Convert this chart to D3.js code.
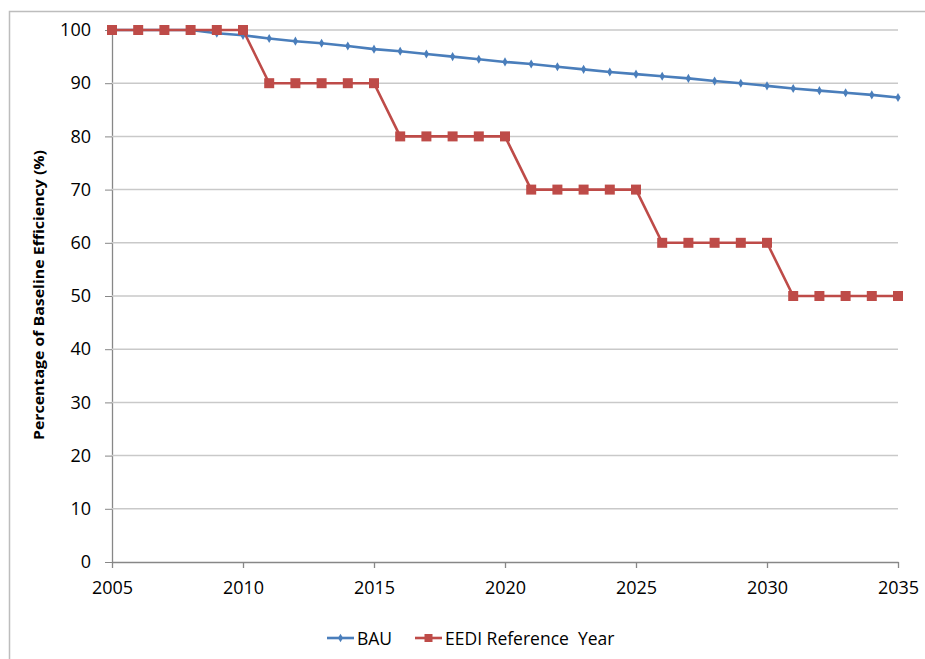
<!DOCTYPE html>
<html>
<head>
<meta charset="utf-8">
<script src="https://cdn.jsdelivr.net/npm/d3@7"></script>
<style>
  html, body { margin: 0; padding: 0; background: #fff; }
  svg { display: block; }
  text { font-family: "Open Sans", "Liberation Sans", sans-serif; fill: #000; }
</style>
</head>
<body>
<svg id="chart" width="925" height="659"></svg>
<script>
// Years on the category axis
const years = d3.range(2005, 2036);
// Business-as-usual efficiency path (% of baseline)
const bauValues = [100, 100, 100, 100, 99.4, 99.0, 98.4, 97.9, 97.5, 97.0,
  96.4, 96.0, 95.5, 95.0, 94.5, 94.0, 93.6, 93.1, 92.6, 92.1,
  91.7, 91.3, 90.9, 90.4, 90.0, 89.5, 89.0, 88.6, 88.2, 87.8, 87.3];
// EEDI reference-year steps (% of baseline)
const eediValues = [100, 100, 100, 100, 100, 100, 90, 90, 90, 90,
  90, 80, 80, 80, 80, 80, 70, 70, 70, 70,
  70, 60, 60, 60, 60, 60, 50, 50, 50, 50, 50];
const yTicks = [0, 10, 20, 30, 40, 50, 60, 70, 80, 90, 100];
const xTicks = [2005, 2010, 2015, 2020, 2025, 2030, 2035];
const seriesNames = ["BAU", "EEDI Reference  Year"];

const svg = d3.select("#chart");
const blue = "#4a7ebb", red = "#be4b48";

// outer chart frame
svg.append("rect").attr("x", 9.5).attr("y", 11.5).attr("width", 930).attr("height", 660)
  .attr("fill", "none").attr("stroke", "#bdbdbd").attr("stroke-width", 1.5);

const x = d3.scaleLinear().domain([2005, 2035]).range([112, 898]);
const y = d3.scaleLinear().domain([0, 100]).range([562, 30]);

// left axis with tick stubs
svg.append("g").attr("transform", "translate(112,0)")
  .call(d3.axisLeft(y).tickValues(yTicks).tickSize(7).tickSizeOuter(0).tickPadding(14))
  .call(g => g.select(".domain").attr("stroke", "#878787").attr("stroke-width", 1.3))
  .call(g => g.selectAll(".tick line").attr("stroke", "#878787"))
  .call(g => g.selectAll(".tick text").attr("font-size", 18).attr("font-family", "Open Sans").attr("fill", "#111"));

// horizontal gridlines
svg.append("g").selectAll("line").data(yTicks.filter(v => v > 0)).join("line")
  .attr("x1", 112).attr("x2", 898)
  .attr("y1", d => y(d)).attr("y2", d => y(d))
  .attr("stroke", "#c9c9c9").attr("stroke-width", 1.5);

// bottom axis
svg.append("g").attr("transform", "translate(0,562)")
  .call(d3.axisBottom(x).tickValues(xTicks).tickFormat(d3.format("d")).tickSize(6).tickSizeOuter(0).tickPadding(13))
  .call(g => g.select(".domain").attr("stroke", "#878787").attr("stroke-width", 1.3))
  .call(g => g.selectAll(".tick line").attr("stroke", "#878787").attr("stroke-width", 1.3))
  .call(g => g.selectAll(".tick text").attr("font-size", 18).attr("font-family", "Open Sans").attr("fill", "#111"));

// y-axis title
svg.append("text")
  .attr("transform", "translate(44,295) rotate(-90)")
  .attr("text-anchor", "middle")
  .attr("font-size", 14).attr("font-weight", "bold")
  .attr("textLength", 290).attr("lengthAdjust", "spacingAndGlyphs")
  .text("Percentage of Baseline Efficiency (%)");

const line = d3.line().x((d, i) => x(years[i])).y(d => y(d));

// BAU series
svg.append("path").datum(bauValues).attr("d", line)
  .attr("fill", "none").attr("stroke", blue).attr("stroke-width", 2.6);
svg.append("g").selectAll("path").data(bauValues).join("path")
  .attr("d", d3.symbol(d3.symbolDiamond, 24)())
  .attr("transform", (d, i) => `translate(${x(years[i])},${y(d)})`)
  .attr("fill", blue);

// EEDI series
svg.append("path").datum(eediValues).attr("d", line)
  .attr("fill", "none").attr("stroke", red).attr("stroke-width", 2.6);
svg.append("g").selectAll("rect").data(eediValues).join("rect")
  .attr("x", (d, i) => x(years[i]) - 5).attr("y", d => y(d) - 5)
  .attr("width", 10).attr("height", 10).attr("fill", red);

// legend
const legend = svg.append("g");
const legendItems = [
  { name: seriesNames[0], color: blue, x0: 327, marker: "diamond" },
  { name: seriesNames[1], color: red, x0: 415, marker: "square" }
];
legendItems.forEach(it => {
  legend.append("line").attr("x1", it.x0).attr("x2", it.x0 + 27)
    .attr("y1", 638).attr("y2", 638).attr("stroke", it.color).attr("stroke-width", 2.6);
  if (it.marker === "diamond") {
    legend.append("path").attr("d", d3.symbol(d3.symbolDiamond, 22)())
      .attr("transform", `translate(${it.x0 + 13.5},638)`).attr("fill", it.color);
  } else {
    legend.append("rect").attr("x", it.x0 + 9.5).attr("y", 634).attr("width", 8).attr("height", 8).attr("fill", it.color);
  }
  legend.append("text").attr("x", it.x0 + 30).attr("y", 644.5)
    .attr("font-size", 17.5).attr("xml:space", "preserve").style("white-space", "pre")
    .text(it.name);
});
</script>
</body>
</html>
